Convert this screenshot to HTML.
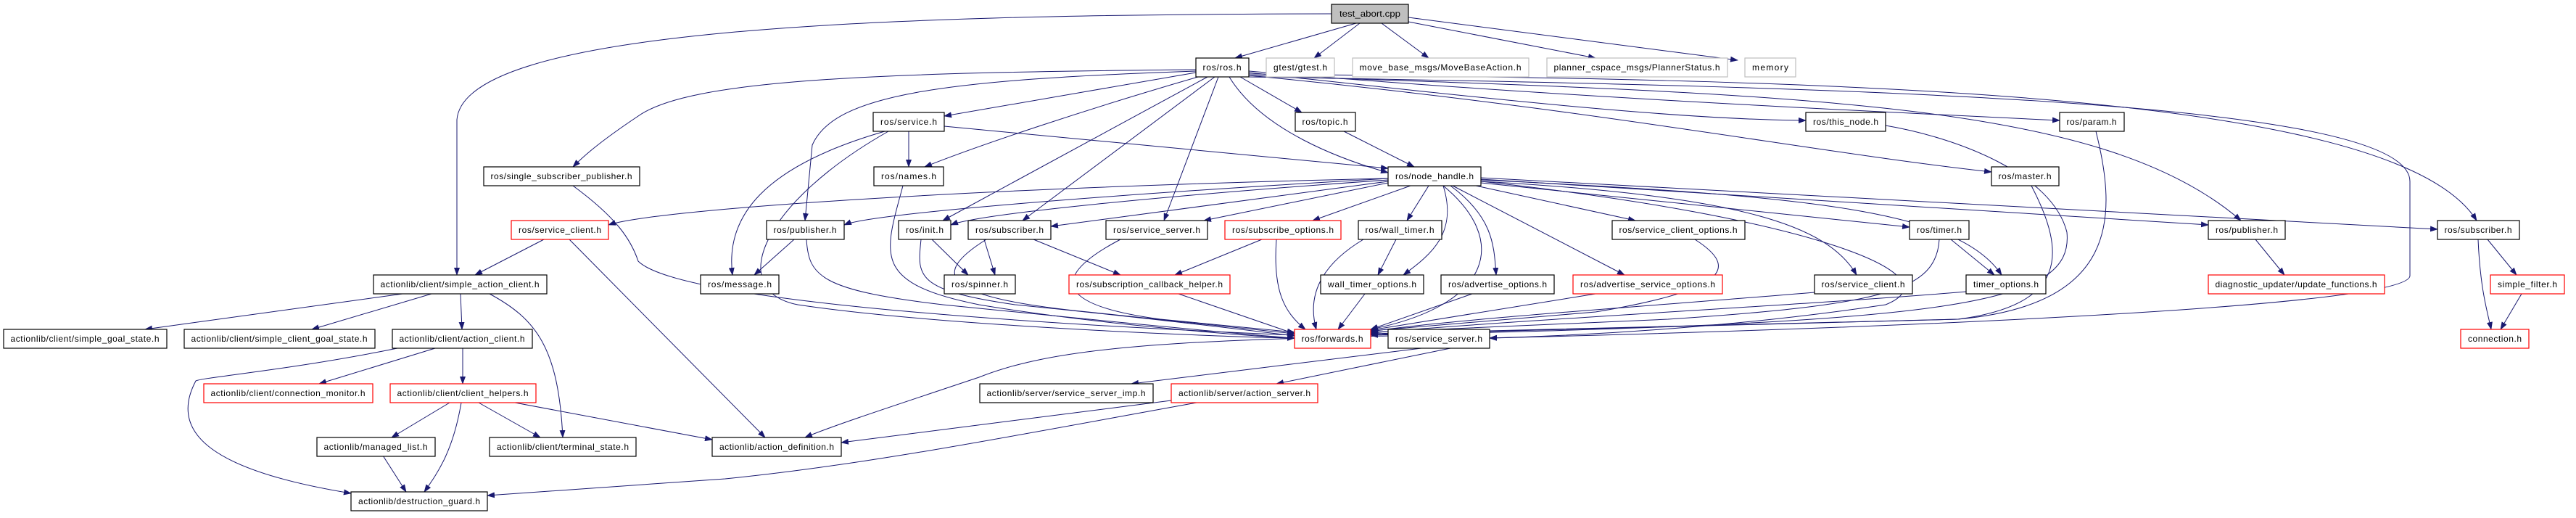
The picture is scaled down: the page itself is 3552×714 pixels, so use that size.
<!DOCTYPE html>
<html><head><meta charset="utf-8"><style>
html,body{margin:0;padding:0;background:#fff}
svg text{font-family:"Liberation Sans",sans-serif;font-size:12px;fill:#000}
</style></head><body>
<svg width="3552" height="709" viewBox="0 0 3552 709" xmlns="http://www.w3.org/2000/svg">
<defs><marker id="a" markerWidth="11" markerHeight="8" refX="10" refY="4" orient="auto" markerUnits="userSpaceOnUse"><path d="M0,0 L11,4 L0,8 z" fill="#191970"/></marker></defs>
<g fill="none" stroke="#191970" stroke-width="1" marker-end="url(#a)">
<path d="M1870,32 L1703,80"/><path d="M1875,32 L1812,80"/><path d="M1905,32 L1970,80"/><path d="M1942,30 L2200,80"/><path d="M1942,24 L2396,83"/>
<path d="M1836,19 C1200,20 640,40 630,165 L630,379"/>
<path d="M1649,96 C1200,100 950,110 880,160 C820,200 800,220 790,230"/>
<path d="M1649,100 L1302,160"/><path d="M1652,106 C1500,150 1350,200 1275,230"/>
<path d="M1649,98 C1300,110 1150,130 1120,200 L1110,304"/>
<path d="M1665,106 L1300,304"/><path d="M1675,106 L1410,304"/><path d="M1680,106 L1605,304"/><path d="M1710,106 L1795,155"/>
<path d="M1695,106 C1740,180 1850,220 1914,238"/>
<path d="M1722,100 C2000,130 2300,165 2490,166"/>
<path d="M1722,98 C2100,130 2500,150 2840,166"/>
<path d="M1722,104 C2200,150 2500,210 2746,237"/>
<path d="M1722,104 C2500,130 2900,140 3090,304"/>
<path d="M1722,102 C2500,110 3300,120 3415,304"/>
<path d="M1722,106 C2600,120 3323,140 3323,250 L3323,380 C3323,420 2700,450 2054,466"/>
<path d="M1253,181 L1253,230"/><path d="M1220,181 C1050,230 1000,300 1010,379"/>
<path d="M1225,181 C1050,280 1000,400 1100,420 C1300,450 1700,465 1785,466"/>
<path d="M1302,174 L1914,232"/>
<path d="M1245,256 C1220,350 1200,390 1350,420 C1500,445 1700,462 1785,466"/>
<path d="M1853,181 L1950,230"/>
<path d="M1914,246 C1300,260 900,290 839,310"/><path d="M1914,246 C1500,270 1200,295 1164,310"/>
<path d="M1914,248 C1600,270 1350,295 1311,310"/><path d="M1914,250 L1449,312"/>
<path d="M1914,252 L1660,304"/><path d="M1945,256 L1810,304"/><path d="M1970,256 L1940,304"/>
<path d="M1990,256 C2010,320 1975,350 1935,379"/><path d="M2000,256 C2060,300 2060,340 2063,379"/>
<path d="M2003,256 L2240,379"/><path d="M2035,256 L2255,304"/>
<path d="M2042,250 C2400,270 2520,310 2560,379"/><path d="M2042,252 L2633,313"/>
<path d="M2042,248 C2500,270 2700,290 2760,379"/><path d="M2042,247 L3045,310"/><path d="M2042,245 L3361,316"/>
<path d="M1990,256 C2080,330 2060,420 1890,454"/>
<path d="M2042,250 C2500,300 2700,380 2600,420 C2400,450 2200,462 2054,466"/>
<path d="M790,256 C850,300 870,330 880,360 C940,420 1500,450 1785,462"/>
<path d="M1095,330 L1040,379"/><path d="M1112,330 C1115,380 1130,400 1300,420 C1500,440 1700,460 1785,466"/>
<path d="M1285,330 L1335,379"/><path d="M1270,330 C1265,380 1260,400 1400,420 C1600,440 1720,455 1785,463"/>
<path d="M1357,330 L1372,379"/><path d="M1425,330 L1545,379"/><path d="M1360,330 C1280,380 1300,410 1500,430 L1785,460"/>
<path d="M1545,330 C1450,380 1450,420 1600,440 L1785,458"/>
<path d="M1740,330 L1620,379"/><path d="M1760,330 C1755,400 1770,430 1800,454"/>
<path d="M1625,405 L1785,460"/>
<path d="M1925,330 L1900,379"/><path d="M1880,330 C1830,360 1800,400 1815,454"/>
<path d="M1882,405 L1845,454"/><path d="M2030,405 L1890,454"/><path d="M2200,405 L1890,455"/>
<path d="M2337,330 C2400,370 2380,400 2200,430 L1890,456"/>
<path d="M2502,403 C2300,420 2000,440 1890,457"/>
<path d="M2690,330 L2750,379"/><path d="M2674,330 C2670,400 2600,420 2300,440 L1890,458"/>
<path d="M2711,402 C2500,420 2100,440 1890,459"/>
<path d="M2801,256 C2850,350 2850,420 2700,440 L1890,460"/>
<path d="M2890,181 C2920,300 2920,420 2700,440 L1890,461"/>
<path d="M2600,173 C2700,190 2830,240 2850,320 C2860,420 2700,445 1890,462"/>
<path d="M3110,330 L3150,379"/>
<path d="M3417,330 C3420,400 3430,430 3435,454"/><path d="M3430,330 L3470,379"/><path d="M3477,405 L3448,454"/>
<path d="M750,330 L655,379"/><path d="M785,330 L1055,603"/>
<path d="M1914,463 C1600,470 1450,480 1350,520 C1200,570 1140,590 1110,603"/>
<path d="M1960,480 L1560,529"/><path d="M2000,480 L1760,529"/>
<path d="M1615,552 L1160,610"/><path d="M1650,555 C1400,600 1200,640 1000,660 L672,683"/>
<path d="M555,405 L200,454"/><path d="M595,405 L430,454"/><path d="M635,405 L637,454"/>
<path d="M675,405 C740,440 770,480 776,603"/>
<path d="M600,480 L440,529"/><path d="M638,480 L638,529"/>
<path d="M548,480 C400,510 280,520 270,525 C230,600 300,650 484,680"/>
<path d="M620,555 L540,603"/><path d="M636,555 C625,620 605,650 585,678"/>
<path d="M660,555 L745,603"/><path d="M710,555 L982,606"/><path d="M528,628 L560,678"/>
</g>
<g stroke-width="1.2">
<rect x="1836" y="6" width="106" height="26" fill="#bfbfbf" stroke="#000"/><text x="1889" y="23" text-anchor="middle" textLength="84" lengthAdjust="spacingAndGlyphs">test_abort.cpp</text>
<g fill="#fff" stroke="#bfbfbf">
<rect x="1746" y="80" width="94" height="26"/><rect x="1865" y="80" width="243" height="26"/><rect x="2133" y="80" width="249" height="26"/><rect x="2406" y="80" width="70" height="26"/>
</g>
<g fill="#fff" stroke="#000">
<rect x="1649" y="80" width="73" height="26"/><rect x="667" y="230" width="215" height="26"/><rect x="515" y="379" width="239" height="26"/>
<rect x="5" y="454" width="225" height="26"/><rect x="254" y="454" width="263" height="26"/><rect x="541" y="454" width="193" height="26"/>
<rect x="437" y="603" width="163" height="26"/><rect x="675" y="603" width="202" height="26"/><rect x="484" y="678" width="188" height="26"/>
<rect x="1204" y="155" width="98" height="26"/><rect x="1205" y="230" width="96" height="26"/><rect x="1057" y="304" width="107" height="26"/>
<rect x="1239" y="304" width="72" height="26"/><rect x="1335" y="304" width="114" height="26"/><rect x="1525" y="304" width="140" height="26"/>
<rect x="966" y="379" width="108" height="26"/><rect x="1302" y="379" width="98" height="26"/><rect x="982" y="603" width="178" height="26"/>
<rect x="1351" y="529" width="239" height="26"/><rect x="1786" y="155" width="83" height="26"/><rect x="2490" y="155" width="110" height="26"/>
<rect x="1914" y="230" width="128" height="26"/><rect x="1873" y="304" width="115" height="26"/><rect x="2223" y="304" width="183" height="26"/>
<rect x="2633" y="304" width="82" height="26"/><rect x="1821" y="379" width="142" height="26"/><rect x="1987" y="379" width="156" height="26"/>
<rect x="2502" y="379" width="135" height="26"/><rect x="1914" y="454" width="140" height="26"/><rect x="2840" y="155" width="89" height="26"/>
<rect x="2746" y="230" width="93" height="26"/><rect x="3045" y="304" width="106" height="26"/><rect x="3361" y="304" width="113" height="26"/>
<rect x="2711" y="379" width="110" height="26"/>
</g>
<g fill="#fff" stroke="#ff0000">
<rect x="705" y="304" width="134" height="26"/><rect x="281" y="529" width="233" height="26"/><rect x="538" y="529" width="201" height="26"/>
<rect x="1689" y="304" width="160" height="26"/><rect x="1474" y="379" width="222" height="26"/><rect x="1615" y="529" width="202" height="26"/>
<rect x="2169" y="379" width="206" height="26"/><rect x="1785" y="454" width="105" height="26"/><rect x="3045" y="379" width="243" height="26"/>
<rect x="3434" y="379" width="102" height="26"/><rect x="3393" y="454" width="94" height="26"/>
</g>
</g>
<g text-anchor="middle" lengthAdjust="spacingAndGlyphs">
<text x="1793" y="97" textLength="74">gtest/gtest.h</text>
<text x="1986" y="97" textLength="223">move_base_msgs/MoveBaseAction.h</text>
<text x="2257" y="97" textLength="229">planner_cspace_msgs/PlannerStatus.h</text>
<text x="2441" y="97" textLength="50">memory</text>
<text x="1685" y="97" textLength="53">ros/ros.h</text>
<text x="774" y="247" textLength="195">ros/single_subscriber_publisher.h</text>
<text x="634" y="396" textLength="219">actionlib/client/simple_action_client.h</text>
<text x="117" y="471" textLength="205">actionlib/client/simple_goal_state.h</text>
<text x="385" y="471" textLength="243">actionlib/client/simple_client_goal_state.h</text>
<text x="637" y="471" textLength="173">actionlib/client/action_client.h</text>
<text x="518" y="620" textLength="143">actionlib/managed_list.h</text>
<text x="776" y="620" textLength="182">actionlib/client/terminal_state.h</text>
<text x="578" y="695" textLength="168">actionlib/destruction_guard.h</text>
<text x="1253" y="172" textLength="78">ros/service.h</text>
<text x="1253" y="247" textLength="76">ros/names.h</text>
<text x="1110" y="321" textLength="87">ros/publisher.h</text>
<text x="1275" y="321" textLength="52">ros/init.h</text>
<text x="1392" y="321" textLength="94">ros/subscriber.h</text>
<text x="1595" y="321" textLength="120">ros/service_server.h</text>
<text x="1020" y="396" textLength="88">ros/message.h</text>
<text x="1351" y="396" textLength="78">ros/spinner.h</text>
<text x="1071" y="620" textLength="158">actionlib/action_definition.h</text>
<text x="1470" y="546" textLength="219">actionlib/server/service_server_imp.h</text>
<text x="1827" y="172" textLength="63">ros/topic.h</text>
<text x="2545" y="172" textLength="90">ros/this_node.h</text>
<text x="1978" y="247" textLength="108">ros/node_handle.h</text>
<text x="1930" y="321" textLength="95">ros/wall_timer.h</text>
<text x="2314" y="321" textLength="163">ros/service_client_options.h</text>
<text x="2674" y="321" textLength="62">ros/timer.h</text>
<text x="1892" y="396" textLength="122">wall_timer_options.h</text>
<text x="2065" y="396" textLength="136">ros/advertise_options.h</text>
<text x="2569" y="396" textLength="115">ros/service_client.h</text>
<text x="1984" y="471" textLength="120">ros/service_server.h</text>
<text x="2884" y="172" textLength="69">ros/param.h</text>
<text x="2792" y="247" textLength="73">ros/master.h</text>
<text x="3098" y="321" textLength="86">ros/publisher.h</text>
<text x="3417" y="321" textLength="93">ros/subscriber.h</text>
<text x="2766" y="396" textLength="90">timer_options.h</text>
<text x="772" y="321" textLength="114">ros/service_client.h</text>
<text x="397" y="546" textLength="213">actionlib/client/connection_monitor.h</text>
<text x="638" y="546" textLength="181">actionlib/client/client_helpers.h</text>
<text x="1769" y="321" textLength="140">ros/subscribe_options.h</text>
<text x="1585" y="396" textLength="202">ros/subscription_callback_helper.h</text>
<text x="1716" y="546" textLength="182">actionlib/server/action_server.h</text>
<text x="2272" y="396" textLength="186">ros/advertise_service_options.h</text>
<text x="1837" y="471" textLength="85">ros/forwards.h</text>
<text x="3166" y="396" textLength="223">diagnostic_updater/update_functions.h</text>
<text x="3485" y="396" textLength="82">simple_filter.h</text>
<text x="3440" y="471" textLength="74">connection.h</text>
</g>
</svg>
</body></html>
